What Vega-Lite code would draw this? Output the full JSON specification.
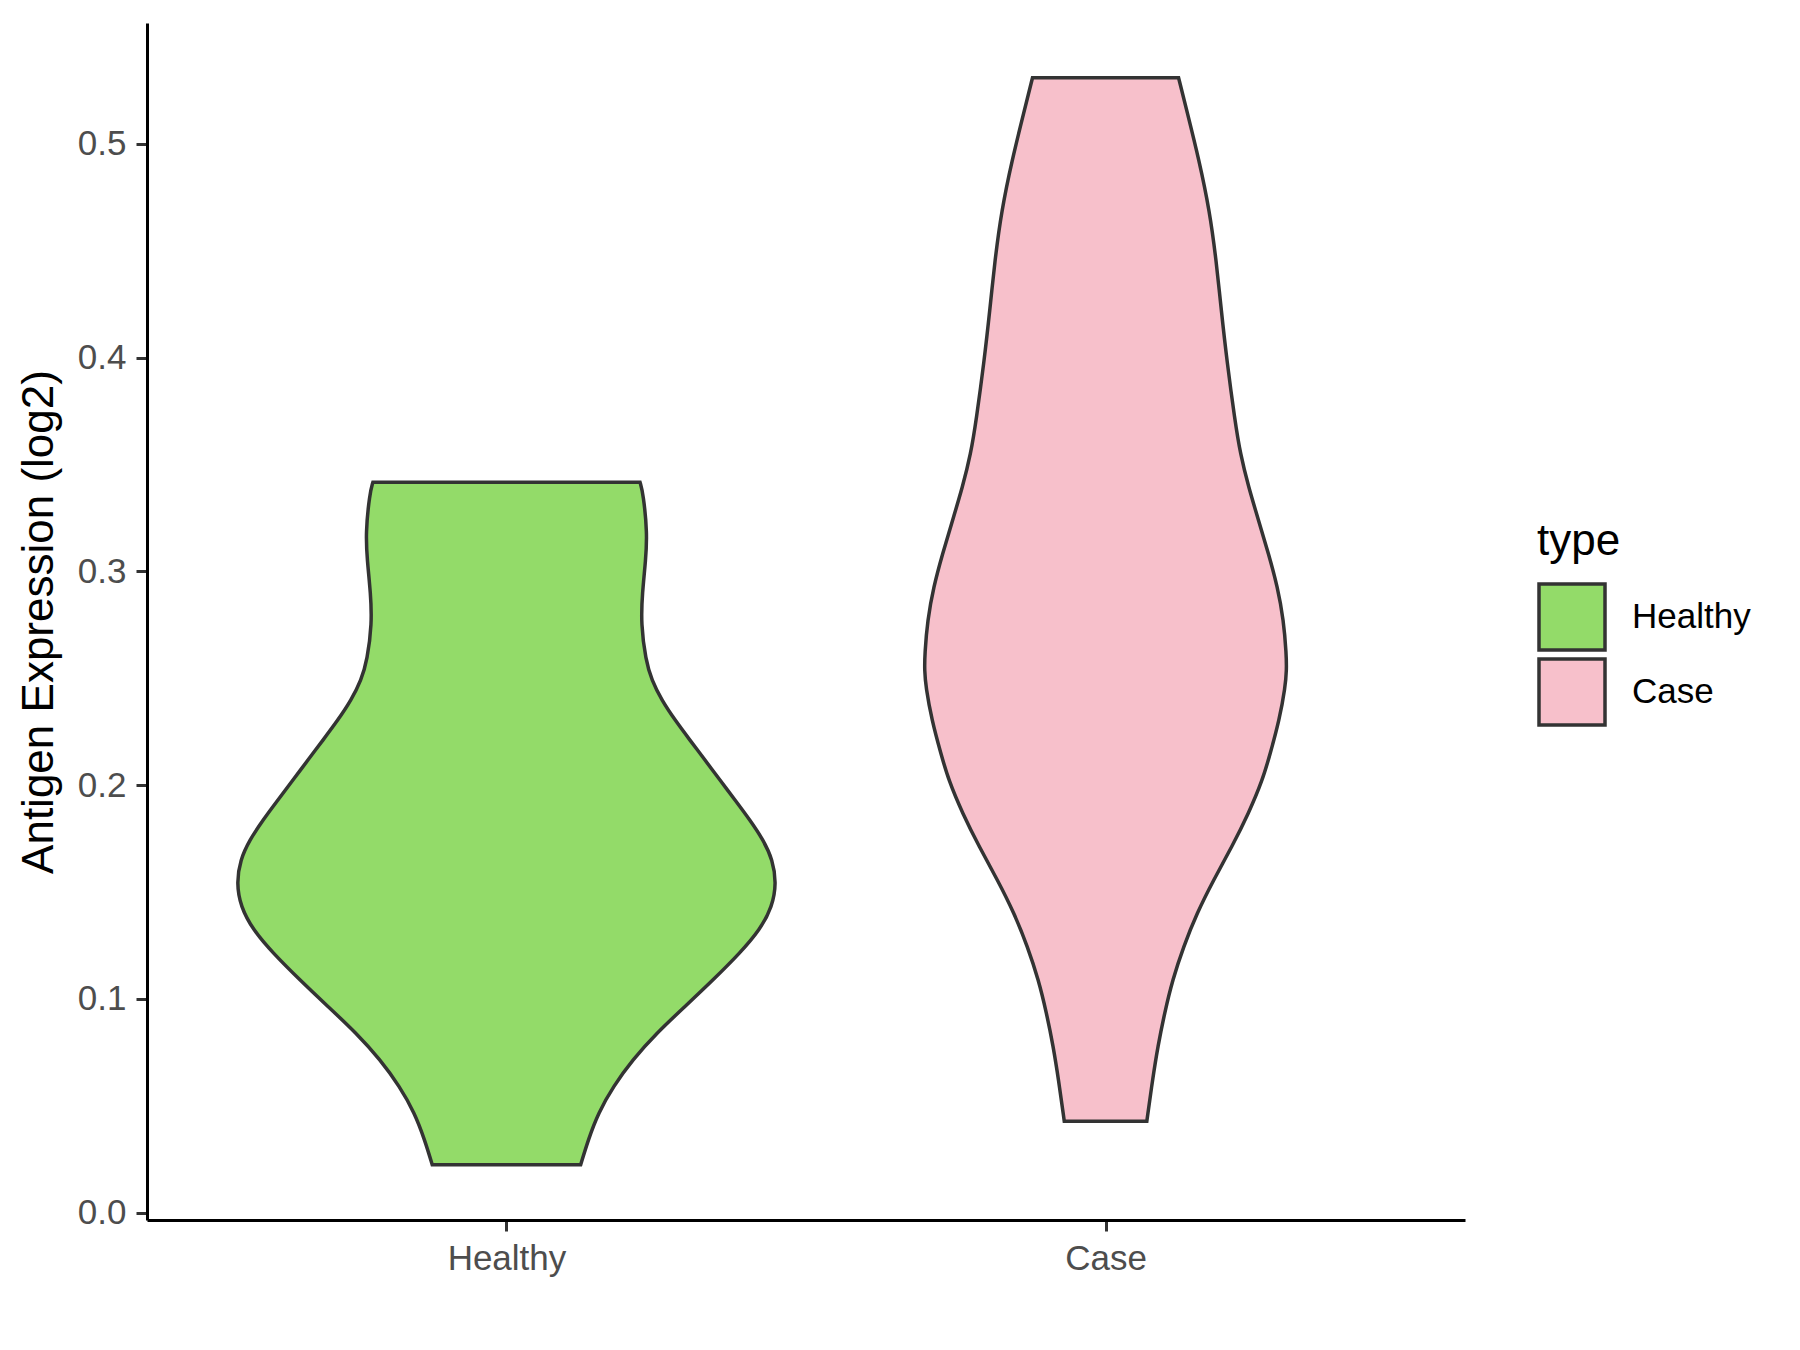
{
  "$schema": "https://vega.github.io/schema/vega-lite/v6.json",
  "width": 1318,
  "height": 1197,
  "autosize": {"type": "none"},
  "padding": {"left": 147, "top": 23, "right": 335, "bottom": 130},
  "background": "white",
  "config": {
    "view": {"stroke": null},
    "font": "Liberation Sans"
  },
  "data": {
    "values": [
      {"type": "Healthy", "value": 0.0224, "width": 0.1239},
      {"type": "Healthy", "value": 0.0341, "width": 0.1366},
      {"type": "Healthy", "value": 0.0466, "width": 0.1533},
      {"type": "Healthy", "value": 0.0590, "width": 0.1783},
      {"type": "Healthy", "value": 0.0715, "width": 0.2107},
      {"type": "Healthy", "value": 0.0840, "width": 0.2508},
      {"type": "Healthy", "value": 0.0964, "width": 0.2980},
      {"type": "Healthy", "value": 0.1089, "width": 0.3452},
      {"type": "Healthy", "value": 0.1214, "width": 0.3898},
      {"type": "Healthy", "value": 0.1323, "width": 0.4232},
      {"type": "Healthy", "value": 0.1431, "width": 0.4437},
      {"type": "Healthy", "value": 0.1541, "width": 0.4505},
      {"type": "Healthy", "value": 0.1650, "width": 0.4444},
      {"type": "Healthy", "value": 0.1743, "width": 0.4287},
      {"type": "Healthy", "value": 0.1836, "width": 0.4065},
      {"type": "Healthy", "value": 0.1930, "width": 0.3815},
      {"type": "Healthy", "value": 0.2023, "width": 0.3564},
      {"type": "Healthy", "value": 0.2117, "width": 0.3314},
      {"type": "Healthy", "value": 0.2210, "width": 0.3063},
      {"type": "Healthy", "value": 0.2304, "width": 0.2813},
      {"type": "Healthy", "value": 0.2397, "width": 0.2591},
      {"type": "Healthy", "value": 0.2491, "width": 0.2424},
      {"type": "Healthy", "value": 0.2584, "width": 0.2324},
      {"type": "Healthy", "value": 0.2756, "width": 0.2245},
      {"type": "Healthy", "value": 0.2896, "width": 0.2267},
      {"type": "Healthy", "value": 0.3052, "width": 0.2324},
      {"type": "Healthy", "value": 0.3176, "width": 0.2351},
      {"type": "Healthy", "value": 0.3363, "width": 0.2284},
      {"type": "Healthy", "value": 0.3417, "width": 0.2229},
      {"type": "Case", "value": 0.0427, "width": 0.0689},
      {"type": "Case", "value": 0.0622, "width": 0.0785},
      {"type": "Case", "value": 0.0777, "width": 0.0873},
      {"type": "Case", "value": 0.0933, "width": 0.0985},
      {"type": "Case", "value": 0.1089, "width": 0.1119},
      {"type": "Case", "value": 0.1244, "width": 0.1302},
      {"type": "Case", "value": 0.1400, "width": 0.1524},
      {"type": "Case", "value": 0.1556, "width": 0.1803},
      {"type": "Case", "value": 0.1711, "width": 0.2109},
      {"type": "Case", "value": 0.1867, "width": 0.2387},
      {"type": "Case", "value": 0.2023, "width": 0.2621},
      {"type": "Case", "value": 0.2148, "width": 0.2750},
      {"type": "Case", "value": 0.2303, "width": 0.2900},
      {"type": "Case", "value": 0.2459, "width": 0.3000},
      {"type": "Case", "value": 0.2537, "width": 0.3022},
      {"type": "Case", "value": 0.2615, "width": 0.3017},
      {"type": "Case", "value": 0.2771, "width": 0.2972},
      {"type": "Case", "value": 0.2927, "width": 0.2871},
      {"type": "Case", "value": 0.3082, "width": 0.2721},
      {"type": "Case", "value": 0.3238, "width": 0.2554},
      {"type": "Case", "value": 0.3394, "width": 0.2387},
      {"type": "Case", "value": 0.3550, "width": 0.2249},
      {"type": "Case", "value": 0.3706, "width": 0.2159},
      {"type": "Case", "value": 0.3986, "width": 0.2025},
      {"type": "Case", "value": 0.4220, "width": 0.1932},
      {"type": "Case", "value": 0.4453, "width": 0.1848},
      {"type": "Case", "value": 0.4687, "width": 0.1736},
      {"type": "Case", "value": 0.4920, "width": 0.1564},
      {"type": "Case", "value": 0.5154, "width": 0.1357},
      {"type": "Case", "value": 0.5309, "width": 0.1219}
    ]
  },
  "transform": [
    {"calculate": "(datum.type === 'Healthy' ? 1 : 2) - datum.width", "as": "lo"},
    {"calculate": "(datum.type === 'Healthy' ? 1 : 2) + datum.width", "as": "hi"}
  ],
  "mark": {
    "type": "area",
    "orient": "horizontal",
    "interpolate": "basis",
    "stroke": "#333333",
    "strokeWidth": 3.5,
    "fillOpacity": 1,
    "opacity": 1
  },
  "encoding": {
    "y": {
      "field": "value",
      "type": "quantitative",
      "scale": {"domain": [-0.0035, 0.5565], "nice": false, "zero": false},
      "axis": {
        "title": "Antigen Expression (log2)",
        "titleFontSize": 44,
        "titleFontWeight": "normal",
        "titleColor": "#000000",
        "titlePadding": 16,
        "values": [0, 0.1, 0.2, 0.3, 0.4, 0.5],
        "format": ".1f",
        "labelFontSize": 35,
        "labelColor": "#4D4D4D",
        "labelPadding": 10,
        "tickSize": 11,
        "tickWidth": 3,
        "tickColor": "#333333",
        "domainColor": "#000000",
        "domainWidth": 3,
        "grid": false
      }
    },
    "x": {
      "field": "lo",
      "type": "quantitative",
      "scale": {"domain": [0.4, 2.6], "nice": false, "zero": false},
      "axis": {
        "title": null,
        "values": [1, 2],
        "labelExpr": "datum.value == 1 ? 'Healthy' : 'Case'",
        "labelFontSize": 35,
        "labelColor": "#4D4D4D",
        "labelPadding": 10,
        "tickSize": 11,
        "tickWidth": 3,
        "tickColor": "#333333",
        "domainColor": "#000000",
        "domainWidth": 3,
        "grid": false
      }
    },
    "x2": {"field": "hi"},
    "color": {
      "field": "type",
      "type": "nominal",
      "scale": {"domain": ["Healthy", "Case"], "range": ["#93DB69", "#F7C0CB"]},
      "legend": {
        "title": "type",
        "orient": "none",
        "legendX": 1390,
        "legendY": 497,
        "titleFontSize": 44,
        "titleFontWeight": "normal",
        "titleColor": "#000000",
        "titlePadding": 18,
        "symbolType": "square",
        "symbolSize": 4356,
        "symbolStrokeColor": "#333333",
        "symbolStrokeWidth": 3.5,
        "symbolOpacity": 1,
        "symbolFillOpacity": 1,
        "labelFontSize": 35,
        "labelColor": "#000000",
        "labelOffset": 25,
        "rowPadding": -7
      }
    }
  }
}
